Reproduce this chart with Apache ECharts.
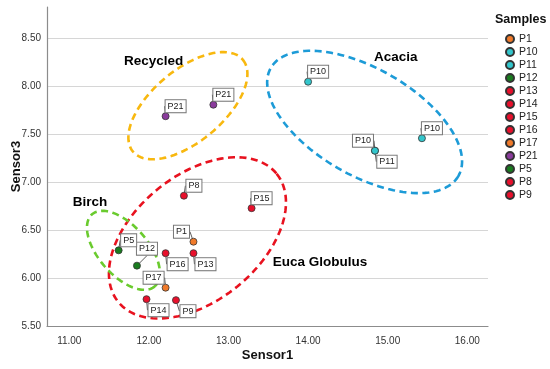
<!DOCTYPE html>
<html><head><meta charset="utf-8">
<script src="https://cdn.jsdelivr.net/npm/echarts@6/dist/echarts.min.js"></script>
<style>html,body{margin:0;padding:0;background:#fff}#c{width:550px;height:369px}</style>
</head><body><div id="c"></div>
<script>
// ---- data ----
const samples = ['P1','P10','P11','P12','P13','P14','P15','P16','P17','P21','P5','P8','P9'];
const pointSample = ['P21','P21','P10','P10','P10','P11','P8','P15','P1','P5','P12','P16','P13','P17','P14','P9'];
const sensor1 = [12.21,12.81,14.00,15.43,14.84,14.84,12.44,13.29,12.56,11.62,11.85,12.21,12.56,12.21,11.97,12.34];
const sensor3 = [7.69,7.81,8.05,7.46,7.33,7.33,6.86,6.73,6.38,6.29,6.13,6.26,6.26,5.90,5.78,5.77];
const xTicks = [11,12,13,14,15,16];
const yTicks = [5.5,6,6.5,7,7.5,8,8.5];
const groupNames = ['Recycled','Acacia','Euca Globulus','Birch'];

// ---- annotation geometry / styles ----
const groupCenterX = [12.49,14.71,12.61,11.68];
const groupCenterY = [7.80,7.63,6.42,6.29];
const groupSemiA = [0.90,1.36,1.28,0.60];   // in Sensor1 units
const groupSemiB = [0.45,0.67,0.79,0.31];
const groupAngle = [40,-30,39,-49];        // degrees, counter-clockwise
const groupColor = ['#f8b80f','#1d9bd7','#e8121f','#6acb2e'];
const groupLabelX = [12.06,15.10,14.15,11.26];
const groupLabelY = [8.26,8.31,6.17,6.79];

const sampleColor = {P1:'#f07a2a',P10:'#33c6cc',P11:'#33c6cc',P12:'#197c1f',P13:'#e8102c',P14:'#e8102c',
  P15:'#e8102c',P16:'#e8102c',P17:'#f07a2a',P21:'#8a3b9c',P5:'#197c1f',P8:'#e8102c',P9:'#e8102c'};
const place = {ur:[10,-10], ul:[-12,-10], dr:[12,11], up:[10,-17]};
const pointPlace = ['ur','ur','ur','ur','ul','dr','ur','ur','ul','ur','up','dr','dr','ul','dr','dr'];

const FONT = 'Arial, "Liberation Sans", sans-serif';

const chart = echarts.init(document.getElementById('c'), null, {renderer:'canvas'});

const lookup = {};
const series = [];

// ellipses
series.push({
  type:'custom', name:'__ellipses', silent:true, z:1,
  data: groupNames.map((n,i)=>[groupCenterX[i], groupCenterY[i]]),
  renderItem(params, api){
    const i = params.dataIndex;
    const c = api.coord([api.value(0), api.value(1)]);
    const unit = api.size([1,0])[0];
    const a = groupSemiA[i]*unit, b = groupSemiB[i]*unit;
    const th = groupAngle[i]*Math.PI/180;
    const pts = [];
    for (let k=0;k<=120;k++){
      const t = k/120*Math.PI*2;
      const ex = a*Math.cos(t), ey = b*Math.sin(t);
      pts.push([c[0] + ex*Math.cos(th) + ey*Math.sin(th), c[1] - ex*Math.sin(th) + ey*Math.cos(th)]);
    }
    return {type:'polyline', shape:{points:pts}, style:{fill:null, stroke:groupColor[i], lineWidth:2.6, lineDash:[7,4.5]}};
  }
});
// group labels
series.push({
  type:'custom', name:'__groups', silent:true, z:3,
  data: groupNames.map((n,i)=>[groupLabelX[i], groupLabelY[i]]),
  renderItem(params, api){
    const c = api.coord([api.value(0), api.value(1)]);
    return {type:'text', x:c[0], y:c[1], style:{text:groupNames[params.dataIndex], textAlign:'center', textVerticalAlign:'middle',
      font:'bold 13.5px ' + FONT, fill:'#000'}};
  }
});

samples.forEach(s=>{
  const idxs = [];
  pointSample.forEach((p,i)=>{ if(p===s) idxs.push(i); });
  lookup[series.length] = idxs;
  series.push({
    type:'scatter', name:s, symbol:'circle', symbolSize:7, z:5,
    itemStyle:{color:sampleColor[s], borderColor:'#333', borderWidth:0.8, opacity:1},
    data: idxs.map(i=>[sensor1[i], sensor3[i]]),
    label:{show:true, position:'inside', formatter:s, fontFamily:FONT, fontSize:9, color:'#222',
      backgroundColor:'#fff', borderColor:'#777', borderWidth:1, padding:[2,2,1,2]},
    labelLine:{show:true, lineStyle:{color:'#333', width:0.8}},
    labelLayout:(params)=>{
      const pi = lookup[params.seriesIndex][params.dataIndex];
      const o = place[pointPlace[pi]];
      return {dx:o[0], dy:o[1]};
    },
    emphasis:{disabled:true}
  });
});

chart.setOption({
  animation:false,
  backgroundColor:'#fff',
  title:{text:'Samples', left:490, top:8, textStyle:{fontFamily:FONT, fontSize:12.5, fontWeight:'bold', color:'#111'}},
  legend:{data:samples, orient:'vertical', left:500, top:28, itemWidth:8, itemHeight:8, itemGap:1,
    icon:'circle', textStyle:{fontFamily:FONT, fontSize:10.5, lineHeight:12, color:'#222'}, selectedMode:false},
  grid:{left:47, right:62, top:7, bottom:43, containLabel:false, outerBoundsMode:'none'},
  xAxis:{type:'value', min:10.72, max:16.26, name:'Sensor1', nameLocation:'middle', nameGap:23, nameMoveOverlap:false,
    nameTextStyle:{fontFamily:FONT, fontSize:13, fontWeight:'bold', color:'#111'},
    axisLine:{show:true, onZero:false, lineStyle:{color:'#8c8c8c', width:1.2}},
    axisTick:{show:false, customValues:xTicks},
    splitLine:{show:false},
    axisLabel:{customValues:xTicks, formatter:v=>v.toFixed(2), fontFamily:FONT, fontSize:10, color:'#333', margin:10}},
  yAxis:{type:'value', min:5.5, max:8.83, name:'Sensor3', nameLocation:'middle', nameGap:24, nameRotate:90, nameMoveOverlap:false,
    nameTextStyle:{fontFamily:FONT, fontSize:13, fontWeight:'bold', color:'#111'},
    axisLine:{show:true, onZero:false, lineStyle:{color:'#8c8c8c', width:1.2}},
    axisTick:{show:false, customValues:yTicks},
    splitLine:{show:true, lineStyle:{color:'#d6d6d6', width:1}},
    axisLabel:{customValues:yTicks, formatter:v=>v.toFixed(2), fontFamily:FONT, fontSize:10, color:'#333', margin:6}},
  series
});
</script></body></html>
